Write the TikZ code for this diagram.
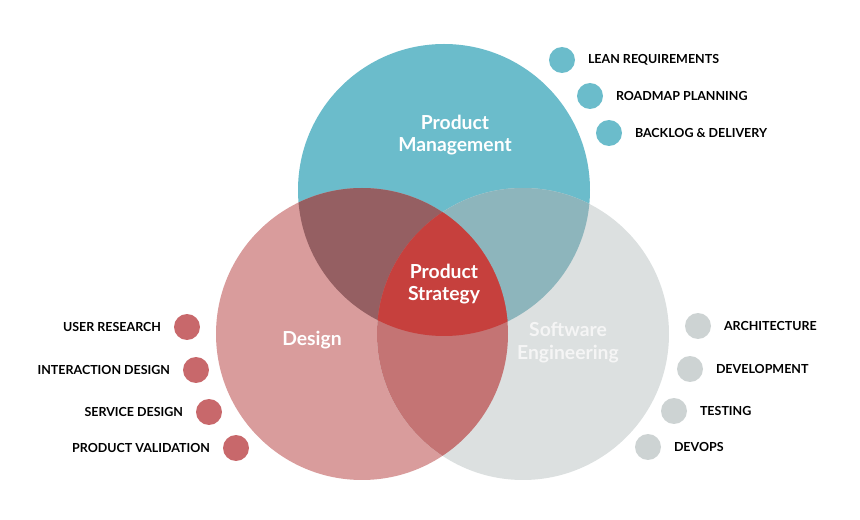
\documentclass[tikz,border=0pt]{standalone}
\usepackage{fontspec}
\setmainfont{Lato}
\usetikzlibrary{positioning}
\definecolor{pmteal}{HTML}{6BBCCB}
\definecolor{dsgnpink}{HTML}{D99C9C}
\definecolor{segray}{HTML}{DCE0E0}
\definecolor{pmdsgn}{HTML}{955F62}
\definecolor{pmse}{HTML}{8DB5BC}
\definecolor{dsgnse}{HTML}{C47474}
\definecolor{stratred}{HTML}{C6403D}
\definecolor{dotred}{HTML}{C8686B}
\definecolor{dotgray}{HTML}{CDD3D3}

\begin{document}
\begin{tikzpicture}[x=0.02cm, y=-0.02cm,
        dot/.style={circle, minimum size=0.52cm, inner sep=0pt},
        item/.style={font=\bfseries\fontsize{7.1}{9}\selectfont, text=black, inner sep=0pt},
        title/.style={font=\bfseries\fontsize{11}{13}\selectfont, align=center, text=white}
    ]
        \useasboundingbox (0,0) rectangle (860,520);
        \def\pmcirc{(444,190) circle (146)}
        \def\dscirc{(362,334) circle (146)}
        \def\secirc{(523,334) circle (146)}

        % Circles
        \fill[pmteal] \pmcirc;
        \fill[dsgnpink] \dscirc;
        \fill[segray] \secirc;
        \begin{scope}\clip \pmcirc; \fill[pmse] \secirc; \end{scope}
        \begin{scope}\clip \pmcirc; \fill[pmdsgn] \dscirc; \end{scope}
        \begin{scope}\clip \dscirc; \fill[dsgnse] \secirc; \end{scope}
        \begin{scope}\clip \pmcirc; \clip \dscirc; \fill[stratred] \secirc; \end{scope}

        % Titles
        \node[title] (pm) at (455,135) {Product\\Management};
        \node[title] (strat) at (444,284) {Product\\Strategy};
        \node[title] (dsgn) at (312,340) {Design};
        \node[title, text=white!92!gray] (se) at (568,343) {Software\\Engineering};

        % Product management items
        \node[dot, fill=pmteal] (lean) at (562,60) {};
        \node[dot, fill=pmteal] (road) at (590,96) {};
        \node[dot, fill=pmteal] (back) at (609,133) {};
        \node[item, right=7pt of lean] {LEAN REQUIREMENTS};
        \node[item, right=7pt of road] {ROADMAP PLANNING};
        \node[item, right=7pt of back] {BACKLOG \& DELIVERY};

        % Design items
        \node[dot, fill=dotred] (ures) at (187,327) {};
        \node[dot, fill=dotred] (inter) at (196,370) {};
        \node[dot, fill=dotred] (serv) at (209,412) {};
        \node[dot, fill=dotred] (valid) at (236,448) {};
        \node[item, left=7pt of ures] {USER RESEARCH};
        \node[item, left=7pt of inter] {INTERACTION DESIGN};
        \node[item, left=7pt of serv] {SERVICE DESIGN};
        \node[item, left=7pt of valid] {PRODUCT VALIDATION};

        % Engineering items
        \node[dot, fill=dotgray] (arch) at (698,326) {};
        \node[dot, fill=dotgray] (dev) at (690,369) {};
        \node[dot, fill=dotgray] (test) at (674,411) {};
        \node[dot, fill=dotgray] (ops) at (648,447) {};
        \node[item, right=7pt of arch] {ARCHITECTURE};
        \node[item, right=7pt of dev] {DEVELOPMENT};
        \node[item, right=7pt of test] {TESTING};
        \node[item, right=7pt of ops] {DEVOPS};
    \end{tikzpicture}
\end{document}
